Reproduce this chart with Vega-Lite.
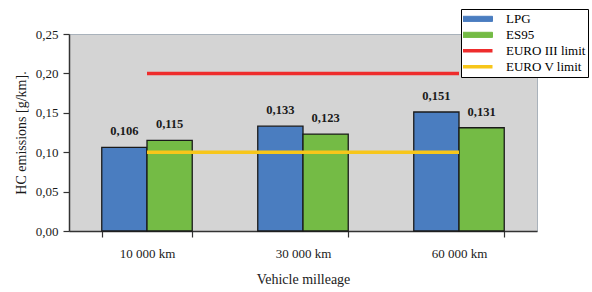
{
  "$schema": "https://vega.github.io/schema/vega-lite/v6.json",
  "width": 468,
  "height": 197,
  "autosize": {"type": "none"},
  "padding": {"left": 69, "top": 34, "right": 55, "bottom": 61},
  "background": "white",
  "config": {
    "font": "Liberation Serif",
    "view": {"fill": "#d4d4d4", "stroke": "#a9b2bb", "strokeWidth": 1},
    "axis": {
      "grid": false,
      "domainColor": "#333333",
      "domainWidth": 1.5,
      "tickColor": "#333333",
      "tickWidth": 1.2,
      "labelFont": "Liberation Serif",
      "labelFontSize": 13,
      "labelColor": "#1a1a1a",
      "labelOverlap": false,
      "titleFont": "Liberation Serif",
      "titleFontSize": 14,
      "titleFontWeight": "normal",
      "titleColor": "#1a1a1a"
    }
  },
  "datasets": {
    "bars": [
      {"km": "10 000 km", "series": "LPG", "v": 0.106},
      {"km": "10 000 km", "series": "ES95", "v": 0.115},
      {"km": "30 000 km", "series": "LPG", "v": 0.133},
      {"km": "30 000 km", "series": "ES95", "v": 0.123},
      {"km": "60 000 km", "series": "LPG", "v": 0.151},
      {"km": "60 000 km", "series": "ES95", "v": 0.131}
    ],
    "limits": [
      {"km": "10 000 km", "series": "EURO III limit", "v": 0.2},
      {"km": "30 000 km", "series": "EURO III limit", "v": 0.2},
      {"km": "60 000 km", "series": "EURO III limit", "v": 0.2},
      {"km": "10 000 km", "series": "EURO V limit", "v": 0.1},
      {"km": "30 000 km", "series": "EURO V limit", "v": 0.1},
      {"km": "60 000 km", "series": "EURO V limit", "v": 0.1}
    ]
  },
  "encoding": {
    "x": {
      "field": "km", "type": "nominal", "sort": null,
      "scale": {"paddingInner": 0.42, "paddingOuter": 0.21},
      "title": "Vehicle milleage",
      "axis": {"labelAngle": 0, "tickBand": "extent", "tickSize": 6, "labelPadding": 10, "titlePadding": 12}
    },
    "y": {
      "field": "v", "type": "quantitative",
      "scale": {"domain": [0, 0.25], "nice": false},
      "title": "HC emissions [g/km].",
      "axis": {"values": [0, 0.05, 0.1, 0.15, 0.2, 0.25], "tickSize": 6, "labelPadding": 5, "titlePadding": 7,
               "labelExpr": "replace(format(datum.value, '.2f'), '.', ',')"}
    }
  },
  "layer": [
    {
      "data": {"name": "bars"},
      "mark": {"type": "bar", "stroke": "#1a1a1a", "strokeWidth": 1.3},
      "encoding": {
        "xOffset": {"field": "series", "type": "nominal", "sort": ["LPG", "ES95"], "scale": {"domain": ["LPG", "ES95"], "paddingInner": 0, "paddingOuter": 0}},
        "color": {
          "field": "series", "type": "nominal",
          "scale": {"domain": ["LPG", "ES95", "EURO III limit", "EURO V limit"], "range": ["#4a7dc0", "#74bb45", "#ee2c2c", "#f7c61a"]},
          "legend": {
            "title": null, "orient": "none", "legendX": 392, "legendY": -25,
            "padding": 2, "symbolOffset": 7, "labelOffset": 23,
            "strokeColor": "#000000", "fillColor": "#ffffff",
            "labelFont": "Liberation Serif", "labelFontSize": 13, "labelColor": "#000000",
            "symbolSize": 1024, "clipHeight": 15.7, "rowPadding": 0,
            "symbolType": {"expr": "indexof(['LPG','ES95'], datum.value) >= 0 ? 'M-1,-0.16H1V0.16H-1Z' : 'M-1,0H1'"},
            "symbolStrokeWidth": {"expr": "indexof(['LPG','ES95'], datum.value) >= 0 ? 1 : 3.5"}
          }
        }
      }
    },
    {
      "data": {"name": "limits"},
      "mark": {"type": "line", "strokeWidth": 3.5},
      "encoding": {
        "color": {"field": "series", "type": "nominal"}
      }
    },
    {
      "data": {"name": "bars"},
      "transform": [{"calculate": "replace(format(datum.v, '.3f'), '.', ',')", "as": "label"}],
      "mark": {"type": "text", "baseline": "alphabetic", "dy": -12, "fontWeight": "bold", "fontSize": 12.5, "color": "#1a1a1a", "font": "Liberation Serif"},
      "encoding": {
        "xOffset": {"field": "series", "type": "nominal", "sort": ["LPG", "ES95"]},
        "text": {"field": "label"}
      }
    }
  ]
}
